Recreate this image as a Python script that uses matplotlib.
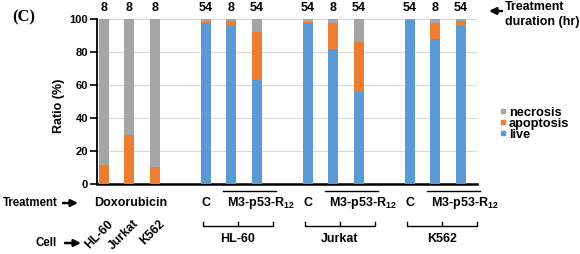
import numpy as np
import matplotlib
matplotlib.use("Agg")
import matplotlib.pyplot as plt
from matplotlib.lines import Line2D
from matplotlib.patches import FancyArrowPatch
from matplotlib.transforms import blended_transform_factory

plt.rcParams['font.family'] = ['Liberation Sans', 'DejaVu Sans']
plt.rcParams['font.weight'] = 'bold'
plt.rcParams['mathtext.fontset'] = 'custom'
plt.rcParams['mathtext.rm'] = 'Liberation Sans:bold'
plt.rcParams['mathtext.default'] = 'rm'

# data: 3 doxorubicin bars, then C / 8h / 54h for each cell line
durations = ['8', '8', '8', '54', '8', '54', '54', '8', '54', '54', '8', '54']
live      = [0, 0, 0, 98, 96, 63, 97.5, 82, 56, 99.5, 88, 96]
apoptosis = [11.5, 29.5, 10.5, 0.5, 3, 29, 1, 15.5, 30, 0.3, 9.5, 3]
necrosis  = [88.5, 70.5, 89.5, 1.5, 1, 8, 1.5, 2.5, 14, 0.2, 2.5, 1]
dox_cells = ['HL-60', 'Jurkat', 'K562']
groups = ['HL-60', 'Jurkat', 'K562']
legend_labels = ['necrosis', 'apoptosis', 'live']

c_live = '#5B9BD5'
c_apop = '#ED7D31'
c_necr = '#A5A5A5'

# slot positions: dox at 0,1,2 then groups of 3 separated by a gap
slots = [0, 1, 2, 4, 5, 6, 8, 9, 10, 12, 13, 14]
x = np.array(slots, dtype=float)

fig = plt.figure(figsize=(5.8, 2.54), dpi=100)
ax = fig.add_axes([97 / 580, 1 - 184 / 254, 380 / 580, 164.7 / 254])

live = np.array(live)
apoptosis = np.array(apoptosis)
necrosis = np.array(necrosis)
w = 0.39
ax.bar(x, live, w, color=c_live, zorder=3)
ax.bar(x, apoptosis, w, bottom=live, color=c_apop, zorder=3)
ax.bar(x, necrosis, w, bottom=live + apoptosis, color=c_necr, zorder=3)

ax.set_xlim(-0.27, 14.63)
ax.set_ylim(0, 100)
ax.set_yticks([0, 20, 40, 60, 80, 100])
ax.tick_params(axis='y', labelsize=8, length=5, width=1.2, pad=1.5)
for t in ax.get_yticklabels():
    t.set_fontweight('bold')
ax.set_xticks([])
ax.yaxis.grid(True, color='#D9D9D9', lw=0.8, zorder=0)
for s in ['top', 'right']:
    ax.spines[s].set_visible(False)
ax.spines['left'].set_linewidth(1.3)
ax.spines['bottom'].set_linewidth(1.8)


def fx(px):
    return px / 580


def fy(py):
    return 1 - py / 254


fig.text(fx(59), fy(106), 'Ratio (%)', rotation=90, fontsize=9,
         fontweight='bold', ha='center', va='center')

# duration labels above bars
for xi, d in zip(x, durations):
    ax.annotate(d, (xi, 100), xytext=(0, 3.5), textcoords='offset points',
                ha='center', va='bottom', fontsize=9, fontweight='bold',
                annotation_clip=False)

# legend, drawn item by item to keep the tight spacing
for i, (lab, c) in enumerate(zip(legend_labels, (c_necr, c_apop, c_live))):
    py = 111 + 11 * i
    fig.add_artist(Line2D([fx(502.5)], [fy(py)], ls='none', marker='s',
                          ms=3.2, color=c, transform=fig.transFigure))
    fig.text(fx(509), fy(py), lab, fontsize=9.2, fontweight='bold',
             va='center_baseline')


def arrow(x0, x1, py):
    fig.patches.append(FancyArrowPatch(
        (fx(x0), fy(py)), (fx(x1), fy(py)), transform=fig.transFigure,
        arrowstyle='-|>', mutation_scale=10, lw=1.8, color='black',
        shrinkA=0, shrinkB=0))


fig.text(fx(12), fy(17), '(C)', family='Liberation Serif', fontsize=12,
         fontweight='bold', va='center')

arrow(502, 489, 11)
fig.text(fx(505), fy(7), 'Treatment', fontsize=9, fontweight='bold', va='center')
fig.text(fx(505), fy(22), 'duration (hr)', fontsize=9, fontweight='bold', va='center')

fig.text(fx(3), fy(203), 'Treatment', fontsize=8.3, fontweight='bold', va='center')
arrow(63, 78, 203)
fig.text(fx(35), fy(243), 'Cell', fontsize=8.3, fontweight='bold', va='center')
arrow(65, 81, 243)

tr = blended_transform_factory(ax.transData, ax.transAxes)


def ay(py):
    return (184 - py) / 164.7


ax.text(1.06, ay(203), 'Doxorubicin', transform=tr, ha='center', va='center',
        fontsize=9, fontweight='bold')
for xi, name in zip(x[:3], dox_cells):
    ax.text(xi + 0.3, ay(222), name, transform=tr, rotation=45,
            rotation_mode='anchor', ha='right', va='center',
            fontsize=8.8, fontweight='bold')

for gi, name in enumerate(groups):
    s = x[3 + 3 * gi]
    ax.text(s, ay(203), 'C', transform=tr, ha='center', va='center',
            fontsize=9, fontweight='bold')
    ax.plot([s + 0.67, s + 2.75], [ay(191), ay(191)], transform=tr,
            color='black', lw=1, clip_on=False)
    ax.text(s + 2.14, ay(203), r'M3-p53-R$_{12}$', transform=tr,
            ha='center', va='center', fontsize=9, fontweight='bold')
    ax.plot([s - 0.12, s - 0.12, s + 2.63, s + 2.63],
            [ay(222), ay(226), ay(226), ay(222)], transform=tr,
            color='black', lw=1, clip_on=False)
    ax.plot([s + 1.25, s + 1.25], [ay(226), ay(222)], transform=tr,
            color='black', lw=1, clip_on=False)
    ax.text(s + 1.25, ay(239), name, transform=tr, ha='center', va='center',
            fontsize=9, fontweight='bold')

fig.savefig('out.png', dpi=100)
